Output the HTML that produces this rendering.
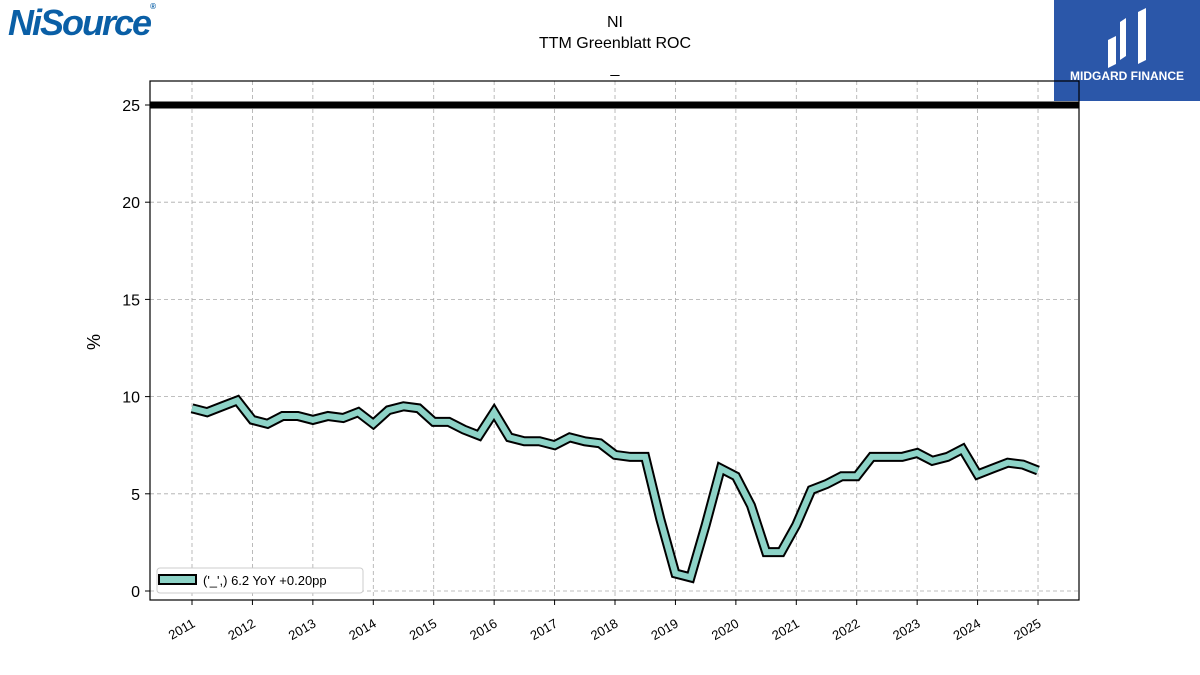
<!DOCTYPE html>
<html><head><meta charset="utf-8"><style>
body{margin:0;background:#fff;font-family:"Liberation Sans","DejaVu Sans",sans-serif}
#wrap{position:relative;width:1200px;height:675px;overflow:hidden}
</style></head><body><div id="wrap">
<div style="position:absolute;left:8px;top:2px;font:italic bold 36px 'Liberation Sans',sans-serif;color:#0a5fa6;letter-spacing:-2px">NiSource<span style="font-size:8px;vertical-align:top">®</span></div>
<div style="position:absolute;left:1054px;top:0;width:146px;height:101px;background:#2b57a9;color:#fff">
<svg width="146" height="70" style="position:absolute;left:0;top:0"><path d="M54 40 L54 68 L62 64 L62 36 Z M66 22 L66 60 L72 56 L72 18 Z M84 12 L84 64 L92 60 L92 8 Z" fill="#fff"/></svg>
<div style="position:absolute;left:0;width:146px;top:69px;text-align:center;font:bold 12px 'Liberation Sans',sans-serif">MIDGARD FINANCE</div></div>
<svg id="chart" width="1200" height="675" style="position:absolute;left:0;top:0"></svg>
</div>
<script>
const years=[2011,2012,2013,2014,2015,2016,2017,2018,2019,2020,2021,2022,2023,2024,2025];
const yTicks=[0,5,10,15,20,25];
const startYear=2011, step=0.25;
const roc=[9.4,9.2,9.5,9.8,8.8,8.6,9.0,9.0,8.8,9.0,8.9,9.2,8.6,9.3,9.5,9.4,8.7,8.7,8.3,8.0,9.2,7.9,7.7,7.7,7.5,7.9,7.7,7.6,7.0,6.9,6.9,3.7,0.9,0.7,3.4,6.3,5.9,4.4,2.0,2.0,3.4,5.2,5.5,5.9,5.9,6.9,6.9,6.9,7.1,6.7,6.9,7.3,6.0,6.3,6.6,6.5,6.2];
const refLine=25;
const legendText="('_',) 6.2 YoY +0.20pp";
const NS="http://www.w3.org/2000/svg",svg=document.getElementById('chart');
const L=150,R=1079,T=81,B=600;
const X=t=>192+(t-2011)*60.43, Y=v=>591-v*19.44;
function mk(tag,a,p){const e=document.createElementNS(NS,tag);for(const k in a)e.setAttribute(k,a[k]);(p||svg).appendChild(e);return e;}
function txt(x,y,s,a){const e=mk('text',Object.assign({x:x,y:y,'font-family':'Liberation Sans, DejaVu Sans, sans-serif','font-size':16,fill:'#000'},a||{}));e.textContent=s;return e;}
let t;
t=txt(615,27,'NI',{'text-anchor':'middle'});
t=txt(615,48,'TTM Greenblatt ROC',{'text-anchor':'middle'});
t=txt(615,73,'_',{'text-anchor':'middle'});
yTicks.forEach(v=>{let g=mk('line',{x1:L,x2:R,y1:Y(v),y2:Y(v),stroke:'#aaa','stroke-dasharray':'4,3','stroke-width':0.8});
mk('line',{x1:L-5,x2:L,y1:Y(v),y2:Y(v),stroke:'#000'});
let l=txt(L-10,Y(v)+6,String(v),{'text-anchor':'end'});});
years.forEach(y=>{const x=X(y);let g=mk('line',{x1:x,x2:x,y1:T,y2:B,stroke:'#aaa','stroke-dasharray':'4,3','stroke-width':0.8});
mk('line',{x1:x,x2:x,y1:B,y2:B+5,stroke:'#000'});
let l=txt(x+4,B+26,String(y),{'text-anchor':'end','font-size':13,transform:`rotate(-30 ${x+4} ${B+26})`});});
t=txt(100,342,'%',{'text-anchor':'middle',transform:'rotate(-90 100 342)','font-size':18});
let rl=mk('line',{x1:L,x2:R,y1:Y(refLine),y2:Y(refLine),stroke:'#000','stroke-width':7});
const pts=roc.map((v,i)=>X(startYear+i*step).toFixed(1)+','+Y(v).toFixed(1)).join(' ');
let o=mk('polyline',{points:pts,fill:'none',stroke:'#000','stroke-width':10,'stroke-linejoin':'miter'});
let s=mk('polyline',{points:pts,fill:'none',stroke:'#8dd3c7','stroke-width':6,'stroke-linejoin':'miter'});
let fr=mk('rect',{x:L,y:T,width:R-L,height:B-T,fill:'none',stroke:'#000','stroke-width':1.2});
let lg=mk('g',{});
mk('rect',{x:157,y:568,width:206,height:25,rx:3,fill:'#fff',stroke:'#ccc'},lg);
let sw=mk('rect',{x:159,y:575,width:37,height:9,fill:'#8dd3c7',stroke:'#000','stroke-width':2},lg);
let lt=txt(203,585,legendText,{'font-size':13});lg.appendChild(lt);
</script></body></html>
